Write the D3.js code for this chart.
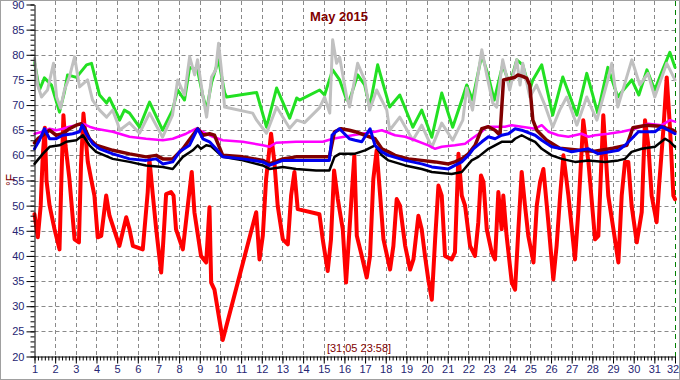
<!DOCTYPE html>
<html>
<head>
<meta charset="utf-8">
<script src="https://cdn.jsdelivr.net/npm/d3@7"></script>
<style>
  html, body { margin: 0; padding: 0; background: #fff; }
  svg { display: block; font-family: "Liberation Sans", Arial, sans-serif; }
  .grid line { stroke: #8a8a8a; stroke-dasharray: 4,3; }
  .axis text { fill: #262673; font-size: 11px; }
  .axis path, .axis line { stroke: #000; }
  .series { fill: none; stroke-linejoin: round; stroke-linecap: round; }
</style>
</head>
<body>
<script>
// [day of month, temperature °F]
const outdoor = [[1.00,48.3],[1.16,43.7],[1.30,50],[1.40,60],[1.50,65.5],[1.58,55],[1.73,50],[1.97,45.3],[2.21,41.3],[2.30,55],[2.40,68],[2.50,62],[2.69,55.3],[2.94,43.3],[3.15,42.7],[3.25,58],[3.37,68.3],[3.58,58.7],[3.74,55.3],[3.90,52],[4.06,43.7],[4.23,44],[4.47,52],[4.63,48],[4.95,44],[5.11,42],[5.44,47.7],[5.60,45.3],[5.76,42],[6.24,41.3],[6.48,52.7],[6.56,59.3],[6.73,52],[6.89,45.3],[7.13,36.7],[7.21,41.3],[7.37,52.3],[7.61,52.7],[7.73,52],[7.85,45.3],[8.18,41.3],[8.42,50],[8.61,56.7],[8.74,48.7],[9.06,40],[9.31,38.7],[9.47,49.7],[9.55,34.7],[9.71,33.3],[10.11,23.3],[11.73,48.7],[11.89,39.3],[12.05,44],[12.21,55.3],[12.45,64.3],[12.61,58.7],[12.77,50],[13.02,43.3],[13.26,42.3],[13.42,52],[13.58,56.7],[13.74,49.3],[14.79,48.3],[14.95,43.3],[15.19,37],[15.35,43.3],[15.50,57],[15.68,51.3],[15.92,45.3],[16.08,34.7],[16.35,52],[16.48,60],[16.60,44],[16.84,40],[17.08,35.7],[17.24,40],[17.40,55.3],[17.56,61],[17.73,52],[17.89,43.3],[18.21,37.3],[18.37,42],[18.53,51.3],[18.69,50],[18.94,42],[19.18,37.3],[19.34,39.3],[19.58,48],[19.74,45.3],[19.90,40],[20.06,35.3],[20.23,31.3],[20.39,43.3],[20.55,54],[20.71,52],[20.87,40],[21.19,39.3],[21.35,40.7],[21.52,60.3],[21.68,52],[21.84,50],[22.08,42],[22.32,40],[22.48,46.7],[22.61,56],[22.73,54.7],[22.89,45.3],[23.13,40.7],[23.29,39.3],[23.45,52.7],[23.61,45.3],[23.69,52],[23.85,44],[24.10,34.7],[24.26,33.3],[24.42,45.3],[24.58,56.7],[24.74,50],[24.90,44],[25.15,38.7],[25.31,50],[25.47,54.7],[25.63,57.3],[25.87,46.7],[26.11,35.3],[26.27,42],[26.44,52],[26.60,60],[26.84,52],[27.16,39.3],[27.32,48.7],[27.56,67],[27.81,58.7],[28.13,43.3],[28.29,44],[28.53,68],[28.77,52],[29.02,45.3],[29.26,38.7],[29.42,52],[29.58,58.7],[29.74,58.7],[29.90,50],[30.15,42.7],[30.39,48.7],[30.55,67],[30.71,62],[30.87,52],[31.11,46.7],[31.23,54],[31.44,65.3],[31.60,75.5],[31.76,65.3],[31.92,52],[32.00,51.3]];

const green = [[1.00,78.5],[1.24,73],[1.48,75.4],[1.82,74],[2.21,68.6],[2.45,72.6],[2.60,76],[3.03,75.5],[3.52,78],[3.76,78.3],[4.15,72],[4.49,70.4],[4.63,71.4],[5.02,68],[5.12,67],[5.35,69],[5.60,68.4],[6.08,65.6],[6.57,70.6],[7.20,65],[7.68,69],[7.93,73],[8.26,71],[8.51,77.5],[8.89,77],[9.14,72],[9.33,69],[9.57,74.5],[9.91,79],[10.20,72.5],[10.30,71.6],[11.75,72.5],[12.23,65.6],[12.72,73.4],[13.35,67.4],[13.69,71.4],[13.83,71],[14.80,73],[15.04,72],[15.43,77],[15.77,75],[16.11,71],[16.25,71],[16.64,76],[16.98,74],[17.22,69.6],[17.61,78],[18.19,69.6],[18.68,72],[19.31,65.6],[19.74,69],[20.23,63.6],[20.71,72.4],[21.24,65.6],[21.73,71.6],[21.92,74],[22.20,71],[22.65,80],[22.95,76],[23.25,71],[23.66,78],[24.00,74],[24.34,79],[24.63,78],[24.97,73],[25.12,75],[25.55,78],[26.08,68],[26.57,75.6],[27.25,68],[27.73,76.3],[28.26,68.4],[28.75,77.5],[29.23,71.6],[29.50,73],[29.91,75],[30.25,72],[30.64,77],[31.02,73],[31.40,77],[31.75,80.5],[32.00,77.5]];

const grey = [[1.00,79.3],[1.15,74],[1.34,71.6],[1.63,73],[1.92,78.3],[2.07,71.6],[2.26,69.4],[2.45,73],[2.69,75.6],[2.94,79.6],[3.18,73.6],[3.57,75],[3.81,71],[4.15,69],[4.49,67.6],[4.78,69],[5.02,66.4],[5.12,65],[5.60,66.5],[6.08,64.4],[6.57,68.4],[7.20,63.6],[7.68,68],[7.93,75],[8.26,72],[8.51,79.6],[8.75,76],[8.89,79],[9.14,72],[9.33,67.6],[9.57,75.6],[9.77,77],[9.91,82.3],[10.06,76.4],[10.20,69.6],[11.56,68.4],[11.75,67],[12.23,64.4],[12.72,69.6],[13.35,65.4],[13.69,67],[14.07,66.5],[14.80,69.5],[15.04,71.6],[15.29,68.4],[15.43,83],[15.62,78.3],[15.77,79.5],[16.11,71.6],[16.25,69.6],[16.64,78.3],[16.98,75],[17.22,69],[17.56,73],[18.05,69],[18.19,65],[18.68,67.6],[19.31,63],[19.74,66],[20.23,61.6],[20.71,66.4],[21.24,63],[21.73,67],[21.92,73.4],[22.20,69],[22.65,81],[22.89,76],[23.18,70.4],[23.37,69.6],[23.66,79],[24.00,73],[24.34,79],[24.50,74],[24.63,78.3],[24.97,71.6],[25.30,74],[25.70,70],[26.08,65.6],[26.42,69],[26.76,71.6],[27.25,66],[27.73,71.6],[28.22,67],[28.75,75],[28.94,78.3],[29.23,69.6],[29.91,79],[30.30,74],[30.69,76.3],[31.02,71.6],[31.60,78.3],[32.00,75]];

const magenta = [[1.00,64.3],[1.40,64.7],[1.73,65.3],[2.05,65],[2.37,65.3],[2.69,65.7],[3.02,66],[3.34,66.3],[3.66,65.7],[3.98,65.3],[4.79,64.7],[5.60,63.7],[6.40,63.3],[7.21,63],[7.69,63.3],[8.34,64.3],[8.82,65.3],[9.31,64.3],[9.63,63.7],[10.11,63],[11.08,62.7],[12.05,62],[12.37,61.7],[12.69,62.5],[13.66,62.7],[14.95,62.7],[15.44,63.3],[16.40,64],[17.48,64.7],[17.81,65],[18.45,64],[18.94,63.7],[19.42,63],[20.06,62],[20.39,61.3],[20.71,61.7],[21.35,62],[21.84,62.3],[22.16,63.3],[22.65,64.7],[22.89,65.7],[23.29,65.7],[23.77,65.7],[24.10,66],[24.58,65.7],[25.23,65.3],[25.55,66],[25.87,64.7],[26.35,64],[26.84,63.7],[27.48,64.3],[27.81,63.7],[28.13,64],[28.77,64.3],[29.42,64.7],[30.06,65.3],[30.71,66.3],[31.35,66],[31.76,67],[32.00,66.7]];

const maroon = [[1.00,62.5],[1.16,63.3],[1.40,64],[1.73,65],[2.05,64],[2.37,64.3],[2.69,65.3],[3.02,66],[3.26,66.3],[3.42,65.5],[3.66,63.3],[3.98,62],[4.79,61],[5.60,60.3],[6.40,59.7],[6.89,60],[7.21,59.3],[7.69,59.3],[8.18,61.3],[8.66,64],[8.90,65.3],[9.15,64],[9.47,64.3],[9.71,64],[10.11,60],[11.08,59.7],[12.05,59],[12.37,58.3],[13.02,59.3],[13.66,59.7],[15.27,59.7],[15.52,64.7],[15.84,65.3],[16.24,65],[16.52,64.7],[17.00,64],[17.48,63.3],[17.81,61.3],[18.13,60.7],[18.45,60],[19.10,59.3],[19.74,59],[20.39,58.7],[21.03,58.3],[21.35,58.7],[21.68,59.3],[22.00,60.3],[22.32,62],[22.65,65.3],[22.97,65.7],[23.29,65],[23.53,64],[23.70,75],[24.00,75.3],[24.24,75.5],[24.40,76],[24.63,75.7],[24.83,75.3],[24.97,74],[25.12,67],[25.31,65],[25.79,63],[26.42,61.4],[27.39,61],[28.12,60.8],[28.99,61.4],[29.67,62],[29.96,65.5],[30.64,66],[31.27,65.8],[31.90,65],[32.00,64.7]];

const blue = [[1.00,61.3],[1.24,63],[1.48,65.3],[1.73,63.3],[2.05,63.3],[2.37,64],[2.85,64.3],[3.18,64.7],[3.31,66],[3.50,64.3],[3.82,62.3],[4.15,61.3],[4.79,60.3],[5.60,59.3],[6.40,59],[6.89,59.3],[7.21,58.3],[7.69,58.7],[8.02,60.7],[8.50,62],[8.82,64.7],[8.90,65.3],[9.15,63.3],[9.47,62.7],[9.79,61.3],[10.11,59.7],[11.08,59.3],[12.05,58.7],[12.37,58],[13.02,59],[15.27,59],[15.40,64],[15.76,65.3],[16.24,63.3],[16.52,63],[16.84,62.7],[17.24,65.3],[17.48,62],[17.81,60.7],[18.13,60],[18.94,59],[19.74,58.3],[20.23,57.7],[21.03,57.3],[21.35,58],[21.68,58.7],[22.00,60],[22.24,61.3],[22.65,62.7],[22.97,63.7],[23.29,63.3],[23.61,64],[23.94,64.3],[24.26,65.3],[24.58,65],[25.23,64],[25.55,63],[26.03,61.7],[26.52,61.3],[27.00,60.7],[27.81,61.3],[28.29,60.3],[29.26,61],[29.58,62],[29.90,63.3],[30.23,64.7],[31.03,64.7],[31.35,65.7],[31.68,65],[32.00,64.3]];

const black = [[1.00,58.3],[1.40,60.3],[1.73,61.7],[2.21,62],[2.53,62.7],[3.02,63],[3.34,64],[3.66,62],[3.98,60.7],[4.79,59.3],[5.60,58.7],[6.40,58],[7.21,57.7],[7.69,57.3],[8.18,59.7],[8.66,61],[8.90,62],[9.06,61.3],[9.31,62],[9.55,61.8],[10.11,59.7],[11.08,59],[12.05,58],[12.37,57.3],[13.02,57.7],[13.66,57.3],[14.63,57],[15.27,57],[15.52,59.7],[15.76,60.3],[16.48,60.3],[17.00,61],[17.48,62],[17.81,60],[18.13,59],[18.94,58],[19.74,57.3],[20.23,56.7],[21.19,56.3],[21.68,56.7],[22.16,59],[22.48,59.7],[22.97,61.3],[23.29,62],[23.61,62.7],[24.10,62.7],[24.26,63.3],[24.58,64],[24.90,63.3],[25.23,62.7],[25.55,61.3],[26.03,60],[26.52,59.3],[27.16,58.7],[27.81,59],[28.61,58.7],[29.26,59],[29.58,59.3],[29.90,60.7],[30.39,61.3],[31.03,61.7],[31.52,63.3],[31.76,62.7],[32.00,61.7]];

const days = d3.range(1, 33);
const yTicks = d3.range(20, 91, 5);
const title = "May 2015";
const stamp = "[31;05 23:58]";

const W = 680, H = 380;
const svg = d3.select("body").append("svg").attr("width", W).attr("height", H);

svg.append("rect").attr("x", 0.5).attr("y", 0.5).attr("width", W - 1).attr("height", H - 1)
  .attr("fill", "#fff").attr("stroke", "#a0a0a0");

const x = d3.scaleLinear().domain([1, 32]).range([34.5, 675]);
const y = d3.scaleLinear().domain([20, 90]).range([356.5, 4.5]);

// grid
const grid = svg.append("g").attr("class", "grid");
grid.selectAll(".gv").data(days.slice(1, -1)).enter().append("line")
  .attr("x1", d => Math.round(x(d)) + 0.5).attr("x2", d => Math.round(x(d)) + 0.5)
  .attr("y1", 1).attr("y2", y(20));
grid.selectAll(".gh").data(yTicks.slice(1, -1)).enter().append("line")
  .attr("x1", x(1)).attr("x2", x(32))
  .attr("y1", d => Math.round(y(d)) + 0.5).attr("y2", d => Math.round(y(d)) + 0.5);

// end-of-month marker
svg.append("line")
  .attr("x1", Math.round(x(32)) + 0.5).attr("x2", Math.round(x(32)) + 0.5)
  .attr("y1", 1).attr("y2", y(20))
  .attr("stroke", "#008000").attr("stroke-dasharray", "5,4");

// series
const line = d3.line().x(d => x(d[0])).y(d => y(d[1]));
const series = [
  { data: green, color: "#22e022", w: 3 },
  { data: grey, color: "#c0c0c0", w: 3 },
  { data: outdoor, color: "#ff0000", w: 4 },
  { data: magenta, color: "#ff00ff", w: 2.5 },
  { data: maroon, color: "#800000", w: 3.5 },
  { data: black, color: "#000000", w: 2.5 },
  { data: blue, color: "#0000ee", w: 3 }
];
svg.selectAll(".series").data(series).enter().append("path")
  .attr("class", "series")
  .attr("d", d => line(d.data))
  .attr("stroke", d => d.color)
  .attr("stroke-width", d => d.w);

// axes
const yMinor = svg.append("g").attr("class", "axis").attr("transform", `translate(${x(1)},0)`)
  .call(d3.axisLeft(y).tickValues(d3.range(20, 91, 1)).tickSize(4).tickFormat(""));
yMinor.select(".domain").remove();
svg.append("g").attr("class", "axis").attr("transform", `translate(${x(1)},0)`)
  .call(d3.axisLeft(y).tickValues(yTicks).tickSize(8).tickSizeOuter(0).tickPadding(2));

const xMinor = svg.append("g").attr("class", "axis").attr("transform", `translate(0,${y(20)})`)
  .call(d3.axisBottom(x).tickValues(d3.range(1, 32.01, 1 / 6)).tickSize(4).tickFormat(""));
xMinor.select(".domain").remove();
const xAxis = svg.append("g").attr("class", "axis").attr("transform", `translate(0,${y(20)})`)
  .call(d3.axisBottom(x).tickValues(days).tickSize(7).tickSizeOuter(0).tickPadding(2));
// keep the last day label inside the frame
xAxis.selectAll(".tick").filter(d => d === 32).select("text").attr("dx", -2.5);

svg.selectAll(".axis .domain").attr("stroke-width", 1);

// texts
svg.append("text").attr("x", 339).attr("y", 21).attr("text-anchor", "middle")
  .attr("font-size", 13).attr("font-weight", "bold").attr("fill", "#800000").text(title);
svg.append("text").attr("x", 359).attr("y", 352).attr("text-anchor", "middle")
  .attr("font-size", 11).attr("fill", "#800000").text(stamp);
svg.append("text").attr("transform", "translate(15,180) rotate(-90)").attr("text-anchor", "middle")
  .attr("font-size", 12).attr("fill", "#800000").text("°F");
</script>
</body>
</html>
